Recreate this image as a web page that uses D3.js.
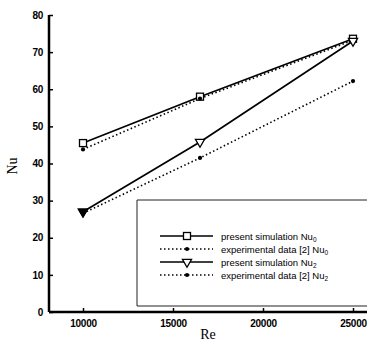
<!DOCTYPE html>
<html>
<head>
<meta charset="utf-8">
<script src="https://cdn.jsdelivr.net/npm/d3@7"></script>
<style>
  body { margin: 0; background: #fff; }
  svg { display: block; }
</style>
</head>
<body>
<div id="chart"></div>
<script>
// data
const reynolds = [10000, 16500, 25000];
const simNu0 = [45.5, 58, 73.6];
const expNu0 = [43.8, 57.5, 73.2];
const simNu2 = [27, 45.8, 73];
const expNu2 = [26.6, 41.5, 62.2];
const xTicks = [10000, 15000, 20000, 25000];
const yTicks = [0, 10, 20, 30, 40, 50, 60, 70, 80];
const legendLabels = [
  { text: 'present simulation Nu', sub: '0' },
  { text: 'experimental data [2] Nu', sub: '0' },
  { text: 'present simulation Nu', sub: '2' },
  { text: 'experimental data [2] Nu', sub: '2' }
];

const width = 367, height = 346;

const svg = d3.select('#chart').append('svg')
  .attr('width', width)
  .attr('height', height);

const x = d3.scaleLinear().domain([10000, 25000]).range([83, 353]);
const y = d3.scaleLinear().domain([0, 80]).range([312, 15]);

const series = [
  { values: simNu0, dash: null, marker: 'square' },
  { values: expNu0, dash: '1.5,2.5', marker: 'dot' },
  { values: simNu2, dash: null, marker: 'tri' },
  { values: expNu2, dash: '1.5,2.5', marker: 'dot' }
];

// axes
const yAxis = d3.axisLeft(y).tickValues(yTicks).tickSize(-4).tickPadding(6);
const gy = svg.append('g').attr('transform', 'translate(49,0)').call(yAxis);
gy.select('.domain').attr('d', 'M0,' + y(80) + 'V' + y(0)).attr('stroke-width', 2.5);

const xAxis = d3.axisBottom(x).tickValues(xTicks).tickFormat(d3.format('d')).tickSize(-4).tickPadding(8);
const gx = svg.append('g').attr('transform', 'translate(0,312)').call(xAxis);
gx.select('.domain').attr('d', 'M49,0H' + width).attr('stroke-width', 2.5);

svg.selectAll('.tick line').attr('stroke-width', 1.5);
svg.selectAll('.tick text')
  .style('font-family', '"Liberation Sans", Arial, sans-serif')
  .style('font-weight', 'bold')
  .style('font-size', '10px')
  .style('letter-spacing', '-0.3px')
  .attr('fill', '#000');

// axis titles
svg.append('text')
  .attr('x', 208).attr('y', 339)
  .attr('text-anchor', 'middle')
  .style('font-family', '"Liberation Serif", "Times New Roman", serif')
  .style('font-size', '14px')
  .text('Re');

svg.append('text')
  .attr('transform', 'translate(17,166) rotate(-90)')
  .attr('text-anchor', 'middle')
  .style('font-family', '"Liberation Serif", "Times New Roman", serif')
  .style('font-size', '14px')
  .text('Nu');

// legend box (drawn before lines so lines stay on top)
svg.append('path')
  .attr('d', 'M' + width + ',200H137V306H' + width)
  .attr('fill', '#fff')
  .attr('stroke', '#222')
  .attr('stroke-width', 1);

const line = d3.line()
  .x((d, i) => x(reynolds[i]))
  .y(d => y(d));

const triPath = d3.symbol().type(d3.symbolTriangle).size(36)();

function drawMarker(g, type, cx, cy) {
  if (type === 'square') {
    g.append('rect')
      .attr('x', cx - 3.5).attr('y', cy - 3.5)
      .attr('width', 7).attr('height', 7)
      .attr('fill', '#fff').attr('stroke', '#000').attr('stroke-width', 1.3);
  } else if (type === 'tri') {
    g.append('path')
      .attr('d', triPath)
      .attr('transform', 'translate(' + cx + ',' + cy + ') rotate(180)')
      .attr('fill', '#fff').attr('stroke', '#000').attr('stroke-width', 1.3);
  } else {
    g.append('circle')
      .attr('cx', cx).attr('cy', cy).attr('r', 2.1)
      .attr('fill', '#000');
  }
}

series.forEach(s => {
  svg.append('path')
    .datum(s.values)
    .attr('d', line)
    .attr('fill', 'none')
    .attr('stroke', '#000')
    .attr('stroke-width', s.dash ? 1.6 : 1.7)
    .attr('stroke-dasharray', s.dash);
});

series.forEach(s => {
  const g = svg.append('g');
  s.values.forEach((v, i) => drawMarker(g, s.marker, x(reynolds[i]), y(v)));
});

// filled look of the overlapping markers at Re = 10000 for Nu2
svg.append('path')
  .attr('d', triPath)
  .attr('transform', 'translate(' + x(reynolds[0]) + ',' + y(simNu2[0]) + ') rotate(180)')
  .attr('fill', '#000').attr('stroke', '#000').attr('stroke-width', 1.3);

// legend entries
const legend = svg.append('g');
legendLabels.forEach((lab, i) => {
  const s = series[i];
  const ly = 236 + i * 13;
  legend.append('line')
    .attr('x1', 160).attr('x2', 213)
    .attr('y1', ly).attr('y2', ly)
    .attr('stroke', '#000')
    .attr('stroke-width', s.dash ? 1.3 : 1.5)
    .attr('stroke-dasharray', s.dash);
  drawMarker(legend, s.marker, 187, ly);
  const t = legend.append('text')
    .attr('x', 221).attr('y', ly + 3.5)
    .style('font-family', '"Liberation Sans", Arial, sans-serif')
    .style('font-size', '9.5px')
    .text(lab.text);
  t.append('tspan')
    .attr('dy', 2.5)
    .style('font-size', '6.5px')
    .text(lab.sub);
});
</script>
</body>
</html>
